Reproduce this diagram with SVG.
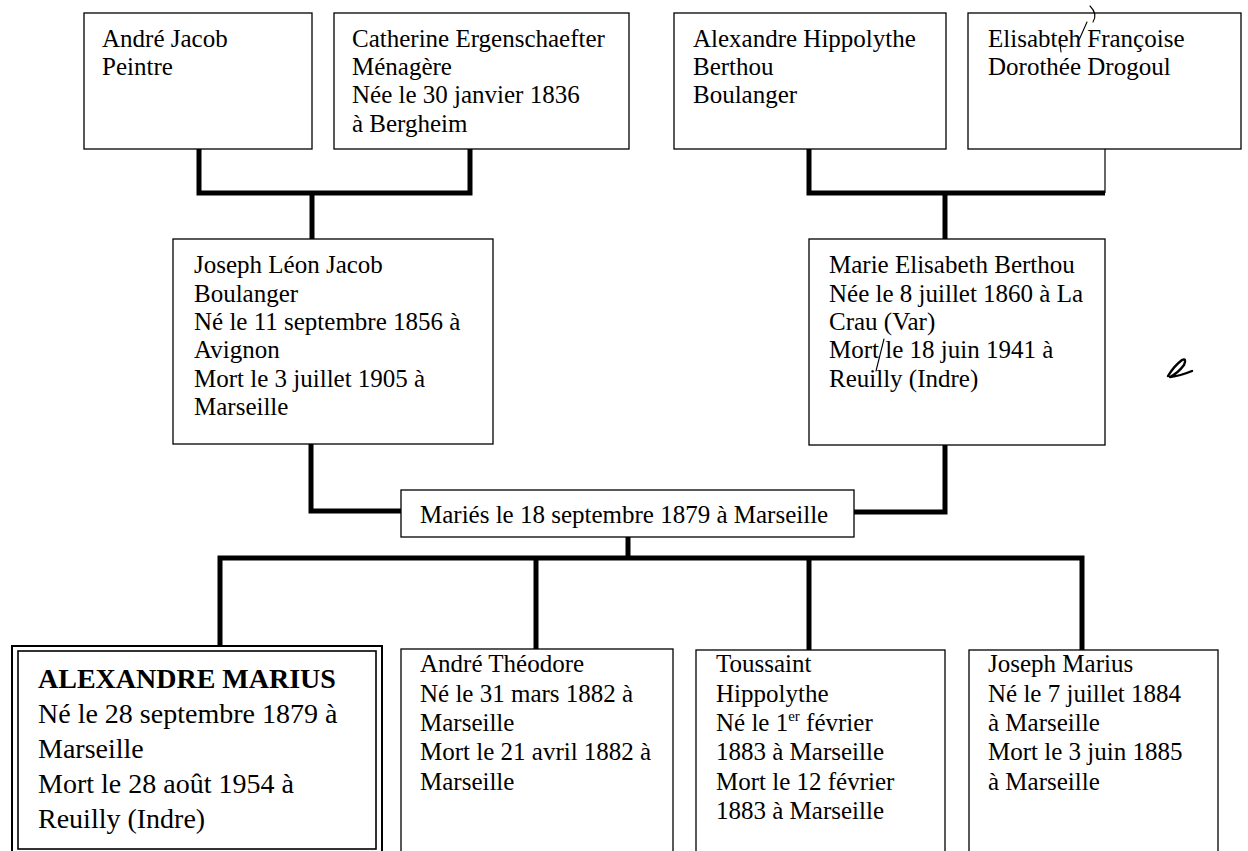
<svg xmlns="http://www.w3.org/2000/svg" width="1248" height="851" viewBox="0 0 1248 851">
<style>
.box{fill:#fff;stroke:#000;stroke-width:1.3}
.conn{fill:none;stroke:#000;stroke-width:5;stroke-linejoin:miter;stroke-linecap:butt}
.thin{fill:none;stroke:#000;stroke-width:1.2}
.t{font-family:"Liberation Serif","Times New Roman",serif;font-size:25px;fill:#000}
.big{font-size:28px}
.b{font-weight:bold}
.pen{fill:none;stroke:#000;stroke-width:1.1;stroke-linecap:round}
</style>
<rect width="1248" height="851" fill="#fff"/>
<g id="connectors">
<path class="conn" d="M199,147 V193 H470 V147"/>
<path class="conn" d="M312,193 V241"/>
<path class="conn" d="M809,147 V193 H1105"/>
<path class="thin" d="M1105,149 V193"/>
<path class="conn" d="M945,193 V241"/>
<path class="conn" d="M311,442 V511 H403"/>
<path class="conn" d="M945,443 V512 H852"/>
<path class="conn" d="M628,535 V558"/>
<path class="conn" d="M220,648 V558 H1082 V652"/>
<path class="conn" d="M536,558 V651"/>
<path class="conn" d="M809,558 V652"/>
</g>
<g id="andre-jacob">
<rect class="box" x="84" y="13" width="228" height="136"/>
<text class="t"><tspan x="102" y="47">André Jacob</tspan><tspan x="102" y="75">Peintre</tspan></text>
</g>
<g id="catherine">
<rect class="box" x="334" y="13" width="295" height="136"/>
<text class="t"><tspan x="352" y="47">Catherine Ergenschaefter</tspan><tspan x="352" y="75">Ménagère</tspan><tspan x="352" y="103">Née le 30 janvier 1836</tspan><tspan x="352" y="132">à Bergheim</tspan></text>
</g>
<g id="alexandre-hippolythe">
<rect class="box" x="674" y="13" width="272" height="136"/>
<text class="t"><tspan x="693" y="47">Alexandre Hippolythe</tspan><tspan x="693" y="75">Berthou</tspan><tspan x="693" y="103">Boulanger</tspan></text>
</g>
<g id="elisabteh">
<rect class="box" x="968" y="13" width="273" height="136"/>
<text class="t"><tspan x="988" y="47">Elisabteh Françoise</tspan><tspan x="988" y="75">Dorothée Drogoul</tspan></text>
<path class="pen" d="M1090,6 Q1098,14 1093,22 M1087,22 L1079,40 M1060,44 L1061,52"/>
</g>
<g id="joseph-leon">
<rect class="box" x="173" y="239" width="320" height="205"/>
<text class="t"><tspan x="194" y="273">Joseph Léon Jacob</tspan><tspan x="194" y="302">Boulanger</tspan><tspan x="194" y="330">Né le 11 septembre 1856 à</tspan><tspan x="194" y="358">Avignon</tspan><tspan x="194" y="387">Mort le 3 juillet 1905 à</tspan><tspan x="194" y="415">Marseille</tspan></text>
</g>
<g id="marie-elisabeth">
<rect class="box" x="809" y="239" width="296" height="206"/>
<text class="t"><tspan x="829" y="273">Marie Elisabeth Berthou</tspan><tspan x="829" y="302">Née le 8 juillet 1860 à La</tspan><tspan x="829" y="330">Crau (Var)</tspan><tspan x="829" y="358">Mort le 18 juin 1941 à</tspan><tspan x="829" y="387">Reuilly (Indre)</tspan></text>
<path class="pen" d="M884,339 L876,371"/>
<path fill="none" stroke="#000" stroke-width="2.4" stroke-linecap="round" stroke-linejoin="round" d="M1168,376 Q1174,366 1182,360 Q1187,358 1184,365 Q1178,373 1170,377 Q1180,376 1192,371"/>
</g>
<g id="maries">
<rect class="box" x="401" y="490" width="453" height="47"/>
<text class="t"><tspan x="420" y="523">Mariés le 18 septembre 1879 à Marseille</tspan></text>
</g>
<g id="alexandre-marius">
<rect x="12" y="646" width="370" height="212" fill="#fff" stroke="#000" stroke-width="2"/>
<rect x="18" y="651" width="358" height="198" fill="none" stroke="#000" stroke-width="1.6"/>
<text class="t big"><tspan class="b" x="38" y="688">ALEXANDRE MARIUS</tspan><tspan x="38" y="723">Né le 28 septembre 1879 à</tspan><tspan x="38" y="758">Marseille</tspan><tspan x="38" y="793">Mort le 28 août 1954 à</tspan><tspan x="38" y="828">Reuilly (Indre)</tspan></text>
</g>
<g id="andre-theodore">
<rect class="box" x="401" y="649" width="272" height="212"/>
<text class="t"><tspan x="420" y="672">André Théodore</tspan><tspan x="420" y="701.5">Né le 31 mars 1882 à</tspan><tspan x="420" y="730.5">Marseille</tspan><tspan x="420" y="760">Mort le 21 avril 1882 à</tspan><tspan x="420" y="789.5">Marseille</tspan></text>
</g>
<g id="toussaint">
<rect class="box" x="696" y="650" width="249" height="212"/>
<text class="t"><tspan x="716" y="672">Toussaint</tspan><tspan x="716" y="701.5">Hippolythe</tspan><tspan x="716" y="730.5">Né le 1<tspan font-size="15" dy="-10">er</tspan><tspan dy="10"> février</tspan></tspan><tspan x="716" y="760">1883 à Marseille</tspan><tspan x="716" y="789.5">Mort le 12 février</tspan><tspan x="716" y="818.5">1883 à Marseille</tspan></text>
</g>
<g id="joseph-marius">
<rect class="box" x="969" y="650" width="249" height="212"/>
<text class="t"><tspan x="988" y="672">Joseph Marius</tspan><tspan x="988" y="701.5">Né le 7 juillet 1884</tspan><tspan x="988" y="730.5">à Marseille</tspan><tspan x="988" y="760">Mort le 3 juin 1885</tspan><tspan x="988" y="789.5">à Marseille</tspan></text>
</g>
</svg>
